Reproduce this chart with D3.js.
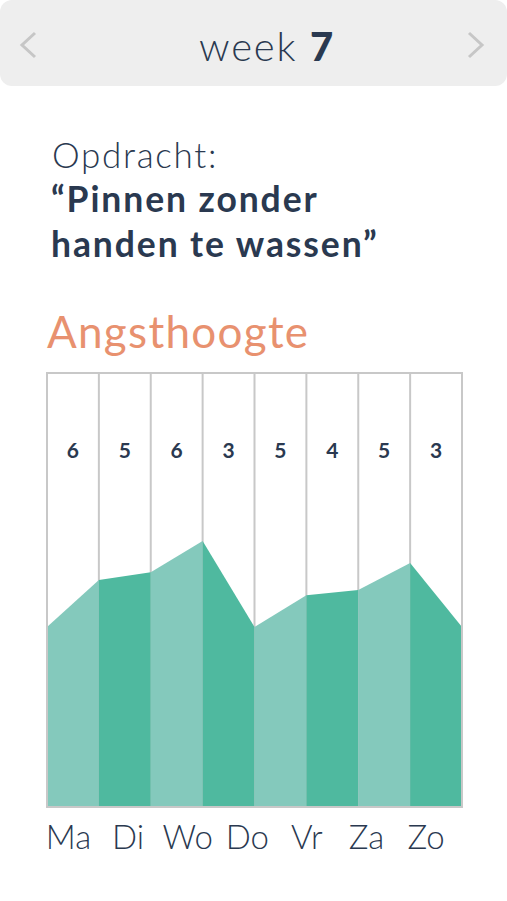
<!DOCTYPE html>
<html>
<head>
<meta charset="utf-8">
<script src="https://cdn.jsdelivr.net/npm/d3@7"></script>
<style>
  html, body { margin: 0; padding: 0; background: #ffffff; }
  svg { display: block; }
</style>
</head>
<body>
<div id="chart"></div>
<script>
// ---- data ----
const weekNumber = 7;
const assignmentLabel = "Opdracht:";
const assignmentLines = ["\u201CPinnen zonder", "handen te wassen\u201D"];
const chartTitle = "Angsthoogte";
const columnScores = [6, 5, 6, 3, 5, 4, 5, 3];
const areaLevels = [4.15, 5.23, 5.41, 6.13, 4.15, 4.88, 5.0, 5.62, 4.15];
const dayLabels = ["Ma", "Di", "Wo", "Do", "Vr", "Za", "Zo"];

(function () {
// ---- layout ----
const W = 507, H = 901;
const navy = "#2a3950";
const font = "Lato, 'Open Sans', sans-serif";
const svg = d3.select("#chart").append("svg").attr("width", W).attr("height", H);

// header
svg.append("rect").attr("x", 0).attr("y", 0).attr("width", W).attr("height", 86)
  .attr("rx", 12).attr("fill", "#eeeeee");
const chev = d3.line();
svg.append("path").attr("d", chev([[35, 33], [22, 45], [35, 57]]))
  .attr("fill", "none").attr("stroke", "#c6c6c6").attr("stroke-width", 3);
svg.append("path").attr("d", chev([[469, 33], [482, 45], [469, 57]]))
  .attr("fill", "none").attr("stroke", "#c6c6c6").attr("stroke-width", 3);
const wk = svg.append("text").attr("x", 199).attr("y", 61)
  .attr("font-family", font).attr("font-size", 40).attr("letter-spacing", 1.8).attr("fill", navy);
wk.append("tspan").attr("font-weight", 300).text("week ");
wk.append("tspan").attr("font-weight", 900).text(weekNumber);

// assignment
svg.append("text").attr("x", 52).attr("y", 168).attr("font-family", font)
  .attr("font-size", 35).attr("letter-spacing", 1.7).attr("font-weight", 300).attr("fill", navy).text(assignmentLabel);
svg.selectAll("text.line").data(assignmentLines).join("text").attr("class", "line")
  .attr("x", 51).attr("y", (d, i) => 212 + i * 45).attr("font-family", font)
  .attr("font-size", 35.5).attr("letter-spacing", 1.9).attr("font-weight", 700).attr("fill", navy).text(d => d);

// title
svg.append("text").attr("x", 47).attr("y", 348).attr("font-family", font)
  .attr("font-size", 44).attr("letter-spacing", 1.3).attr("font-weight", 400).attr("fill", "#e8916f").text(chartTitle);

// chart
const cLeft = 47, cRight = 462, cTop = 373, cBottom = 807;
const x = d3.scaleLinear().domain([0, columnScores.length]).range([cLeft, cRight]);
const y = d3.scaleLinear().domain([0, 10]).range([cBottom, cTop]);

// inner gridlines
svg.selectAll("line.grid").data(d3.range(1, columnScores.length)).join("line")
  .attr("class", "grid").attr("x1", d => x(d)).attr("x2", d => x(d))
  .attr("y1", cTop).attr("y2", cBottom).attr("stroke", "#c8c8c8").attr("stroke-width", 2);

// area segments
const area = d3.area().x(d => x(d)).y0(y(0)).y1(d => y(areaLevels[d]));
svg.selectAll("path.seg").data(d3.range(columnScores.length)).join("path")
  .attr("class", "seg").attr("d", i => area([i, i + 1]))
  .attr("fill", i => i % 2 === 0 ? "#84c9bc" : "#4fb99f");

// frame
svg.append("rect").attr("x", cLeft).attr("y", cTop).attr("width", cRight - cLeft)
  .attr("height", cBottom - cTop).attr("fill", "none").attr("stroke", "#c8c8c8").attr("stroke-width", 2);

// scores
svg.selectAll("text.score").data(columnScores).join("text").attr("class", "score")
  .attr("x", (d, i) => x(i + 0.5)).attr("y", 458).attr("text-anchor", "middle")
  .attr("font-family", font).attr("font-size", 21).attr("font-weight", 700).attr("fill", navy)
  .text(d => d);

// day labels
const dx = d3.scalePoint().domain(dayLabels).range([68.5, 426]);
svg.selectAll("text.day").data(dayLabels).join("text").attr("class", "day")
  .attr("x", d => dx(d)).attr("y", 849).attr("text-anchor", "middle")
  .attr("font-family", font).attr("font-size", 33).attr("font-weight", 300).attr("fill", navy)
  .text(d => d);
})();
</script>
</body>
</html>
